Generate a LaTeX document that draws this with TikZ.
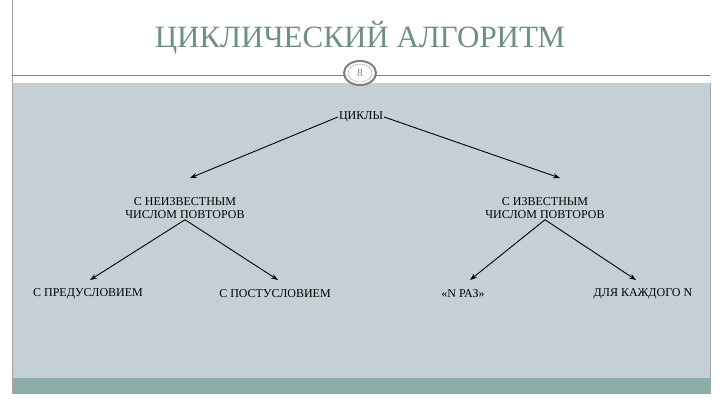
\documentclass[tikz,border=0pt]{standalone}
\usepackage{fontspec}
\setmainfont{Liberation Serif}
\usetikzlibrary{arrows.meta,shapes.geometric}
\definecolor{bodyc}{HTML}{C5D0D6}
\definecolor{bandc}{HTML}{8BADA8}
\definecolor{titlec}{HTML}{6E8F88}
\tikzset{lbl/.style={font=\fontsize{12}{13}\selectfont,align=center,inner sep=1pt},
 arr/.style={-{Stealth[length=7pt,width=5pt]},line width=0.9pt}}
\begin{document}
\begin{tikzpicture}[x=1pt,y=-1pt]
\useasboundingbox (0,0) rectangle (720,405);
\fill[bodyc] (12,83) rectangle (710,378);
\fill[bandc] (12,378) rectangle (710,394);
\draw[gray!70] (12,0) -- (12,394);
\draw[gray!70] (710,83) -- (710,394);
\draw[gray] (12,75) -- (710,75);
\node[font=\fontsize{31}{33}\selectfont,text=titlec] (title) at (360,38) {ЦИКЛИЧЕСКИЙ АЛГОРИТМ};
\node[draw=gray,fill=white,line width=2pt,ellipse,minimum width=32pt,minimum height=24pt,inner sep=0pt] (pg) at (360,73) {};
\node[draw=gray!80,ellipse,minimum width=24pt,minimum height=18pt,inner sep=0pt,font=\fontsize{11}{12}\selectfont,text=gray] (pn) at (360,73) {8};
\node[lbl] (c) at (361,117) {ЦИКЛЫ};
\node[lbl] (u) at (185,208) {С НЕИЗВЕСТНЫМ\\ЧИСЛОМ ПОВТОРОВ};
\node[lbl] (k) at (545,208) {С ИЗВЕСТНЫМ\\ЧИСЛОМ ПОВТОРОВ};
\node[lbl] (a) at (88,294) {С ПРЕДУСЛОВИЕМ};
\node[lbl] (b) at (275,294) {С ПОСТУСЛОВИЕМ};
\node[lbl] (d) at (463,294) {«N РАЗ»};
\node[lbl] (e) at (643,294) {ДЛЯ КАЖДОГО N};
\draw[arr] (c.west) -- (190,178);
\draw[arr] (c.east) -- (560,178);
\draw[arr] (u.south) -- (90,280);
\draw[arr] (u.south) -- (278,280);
\draw[arr] (k.south) -- (470,280);
\draw[arr] (k.south) -- (636,280);
\end{tikzpicture}
\end{document}
